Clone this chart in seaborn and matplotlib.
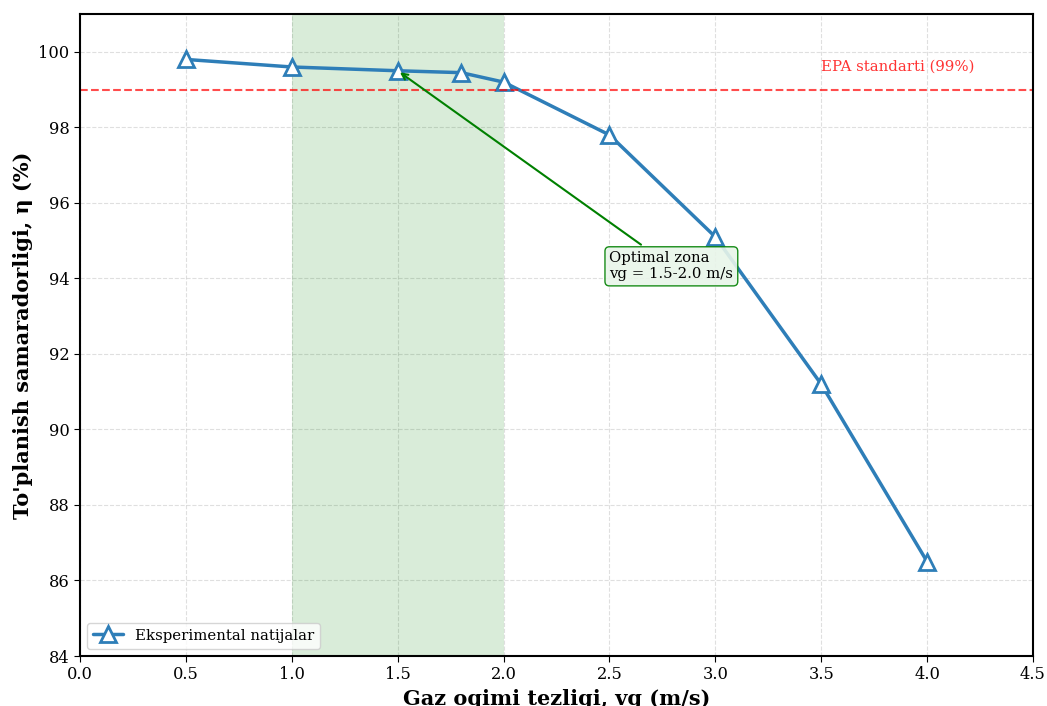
import matplotlib
matplotlib.use("Agg")
import matplotlib.pyplot as plt
import seaborn as sns
import pandas as pd

gas_velocity = [0.5, 1.0, 1.5, 1.8, 2.0, 2.5, 3.0, 3.5, 4.0]
efficiency = [99.8, 99.6, 99.5, 99.45, 99.2, 97.8, 95.1, 91.2, 86.5]
epa_level = 99
optimal_zone = [1.0, 2.0]

df = pd.DataFrame({"vg": gas_velocity, "eta": efficiency})

sns.set_style("white")
plt.rcParams['font.family'] = ['DejaVu Serif']
plt.rcParams['text.color'] = 'black'
plt.rcParams['axes.labelcolor'] = 'black'
plt.rcParams['xtick.color'] = 'black'
plt.rcParams['ytick.color'] = 'black'

fig, ax = plt.subplots(figsize=(10.47, 7.06), dpi=100)
fig.subplots_adjust(left=0.0764, right=0.9866, top=0.980, bottom=0.0708)

# optimal zone shading
ax.axvspan(optimal_zone[0], optimal_zone[1], color='green', alpha=0.15, lw=0)

line_color = '#2E7EB8'
sns.lineplot(data=df, x="vg", y="eta", ax=ax, color=line_color, linewidth=2.5,
             marker='^', markersize=11, markerfacecolor='white',
             markeredgecolor=line_color, markeredgewidth=2,
             label='Eksperimental natijalar')

# EPA standard line
ax.axhline(epa_level, color='red', linestyle='--', linewidth=1.5, alpha=0.7)
ax.text(3.5, 99.5, 'EPA standarti (99%)', color='red', alpha=0.8, fontsize=10.7)

ax.annotate('Optimal zona\nvg = 1.5-2.0 m/s', xy=(1.5, 99.5), xytext=(2.5, 94.0),
            fontsize=10.7,
            arrowprops=dict(arrowstyle='->', color='green', lw=1.5),
            bbox=dict(boxstyle='round,pad=0.3', facecolor='#E8F5E9', edgecolor='green', alpha=0.9))

ax.set_xlim(0, 4.5)
ax.set_ylim(84, 101)
ax.set_xticks([0.0, 0.5, 1.0, 1.5, 2.0, 2.5, 3.0, 3.5, 4.0, 4.5])
ax.set_yticks([84, 86, 88, 90, 92, 94, 96, 98, 100])
ax.tick_params(labelsize=11.7, direction='out', length=4, left=True, bottom=True)

ax.set_xlabel('Gaz oqimi tezligi, vg (m/s)', fontsize=15, fontweight='bold')
ax.set_ylabel("To'planish samaradorligi, η (%)", fontsize=15, fontweight='bold')

ax.grid(True, linestyle='--', color='#b0b0b0', alpha=0.4)
for s in ax.spines.values():
    s.set_linewidth(1.5)
    s.set_color('black')

ax.legend(loc='lower left', fontsize=10.7)

fig.savefig('out.png', dpi=100)
